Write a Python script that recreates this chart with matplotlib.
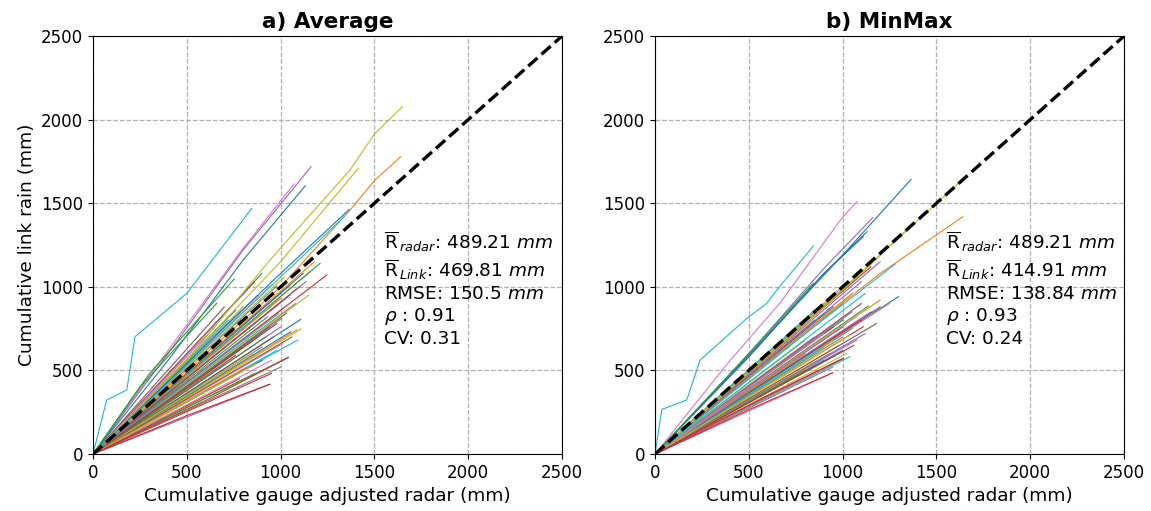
import matplotlib
matplotlib.use("Agg")
import matplotlib.pyplot as plt

AXIS_MAX = 2500
TICKS = [0, 500, 1000, 1500, 2000, 2500]
TITLES = ["a) Average", "b) MinMax"]
XLABEL = "Cumulative gauge adjusted radar (mm)"
YLABEL = "Cumulative link rain (mm)"

# stats shown in each panel
R_RADAR = [489.21, 489.21]
R_LINK = [469.81, 414.91]
RMSE = [150.5, 138.84]
RHO = [0.91, 0.93]
CV = [0.31, 0.24]

# --- a) Average: bulk of link curves, end points (radar mm, link mm) ---
avg_end_x = [1107, 1086, 1041, 952, 943, 1032, 1014, 1006, 1109, 1091,
             1055, 1157, 1210, 1246, 1135, 1050, 1000, 980, 1020, 960,
             900, 1000, 930, 870, 1000, 960, 1010, 900, 850, 980,
             900, 820, 860, 780, 1050, 1100, 950, 880, 800, 720,
             760, 650, 900, 860, 820, 700, 600, 1080, 1150, 990,
             940, 880, 800, 760, 700, 1060, 950, 1000, 870, 1040,
             1120, 1180, 920, 980, 840]
avg_end_y = [805, 742, 578, 483, 417, 843, 871, 811, 748, 682,
             732, 1090, 1140, 1071, 1031, 1010, 960, 1005, 1060, 900,
             870, 930, 820, 790, 760, 700, 660, 640, 600, 620,
             560, 520, 480, 450, 950, 1000, 1010, 950, 880, 800,
             860, 760, 1080, 1030, 980, 880, 700, 900, 950, 840,
             760, 700, 640, 590, 540, 700, 560, 520, 540, 1000,
             1080, 1150, 700, 780, 720]

# a) Average: curves that stand out, read vertex by vertex
avg_top_x = [
    [0, 73, 180, 224, 500, 846],          # cyan, steepest
    [0, 500, 943, 1370, 1503, 1649],      # olive, highest end
    [0, 1000, 1370, 1503, 1640],          # orange
    [0, 600, 1000, 1414],                 # olive
    [0, 700, 1000, 1366],                 # blue
    [0, 400, 800, 1071],                  # pink
    [0, 400, 800, 1162],                  # purple
    [0, 400, 800, 1132],                  # blue
    [0, 300, 753],                        # green
    [0, 250, 659],                        # green
    [0, 700, 1340],                       # cyan
    [0, 500, 940],                        # red, lowest
    [0, 600, 1041],                       # red
]
avg_top_y = [
    [0, 323, 383, 702, 961, 1469],
    [0, 560, 1160, 1699, 1918, 2077],
    [0, 1000, 1459, 1639, 1778],
    [0, 680, 1150, 1709],
    [0, 760, 1080, 1463],
    [0, 620, 1230, 1615],
    [0, 600, 1220, 1718],
    [0, 560, 1160, 1605],
    [0, 480, 1047],
    [0, 400, 901],
    [0, 740, 1420],
    [0, 230, 417],
    [0, 320, 578],
]
avg_top_c = ["tab:cyan", "tab:olive", "tab:orange", "tab:olive", "tab:blue",
             "tab:pink", "tab:purple", "tab:blue", "tab:green", "tab:green",
             "tab:cyan", "tab:red", "tab:red"]

# --- b) MinMax: bulk of link curves ---
mm_end_x = [1297, 1199, 1137, 1110, 1075, 1004, 947, 947, 1039, 1039,
            1000, 980, 1050, 1100, 1150, 1200, 1250, 1000, 950, 900,
            850, 800, 1000, 950, 1050, 1100, 900, 850, 800, 1000,
            950, 1050, 900, 850, 1100, 980, 920, 870, 1020, 960,
            900, 850, 800, 1060, 1120, 1180, 1000, 900, 950, 850,
            800, 750, 1080, 1150, 1200, 1000, 1070, 930, 880, 1120]
mm_end_y = [941, 921, 885, 761, 682, 572, 486, 520, 712, 582,
            620, 650, 750, 800, 850, 880, 900, 700, 680, 640,
            620, 600, 800, 760, 850, 900, 720, 700, 680, 900,
            880, 960, 840, 800, 1030, 560, 520, 500, 600, 590,
            560, 540, 500, 650, 720, 780, 1000, 900, 940, 860,
            780, 720, 1060, 1120, 1150, 760, 820, 600, 600, 960]

mm_top_x = [
    [0, 36, 169, 240, 489, 595, 649, 844],   # cyan, steepest
    [0, 500, 1000, 1365],                    # blue, highest end
    [0, 400, 666, 995, 1075],                # pink
    [0, 500, 900, 1160],                     # purple
    [0, 500, 900, 1110],                     # blue
    [0, 500, 900, 1130],                     # blue
    [0, 700, 1100, 1617],                    # olive along 1:1
    [0, 700, 1100, 1377],                    # olive
    [0, 800, 1200, 1640],                    # orange
    [0, 800, 1279],                          # cyan
    [0, 400, 843],                           # green
    [0, 500, 947],                           # red, lowest
    [0, 600, 1004],                          # red
]
mm_top_y = [
    [0, 267, 323, 562, 811, 901, 981, 1244],
    [0, 590, 1190, 1643],
    [0, 560, 903, 1410, 1509],
    [0, 600, 1110, 1413],
    [0, 590, 1080, 1300],
    [0, 580, 1080, 1330],
    [0, 690, 1090, 1619],
    [0, 680, 1080, 1380],
    [0, 730, 1080, 1419],
    [0, 720, 1135],
    [0, 480, 1021],
    [0, 265, 486],
    [0, 350, 572],
]
mm_top_c = ["tab:cyan", "tab:blue", "tab:pink", "tab:purple", "tab:blue",
            "tab:blue", "tab:olive", "tab:olive", "tab:orange", "tab:cyan",
            "tab:green", "tab:red", "tab:red"]


def draw_panel(ax, end_x, end_y, top_x, top_y, top_c, i):
    for xe, ye in zip(end_x, end_y):
        ax.plot([0, xe], [0, ye], lw=0.8)
    for xs, ys, c in zip(top_x, top_y, top_c):
        ax.plot(xs, ys, lw=0.8, color=c)
    ax.plot([0, AXIS_MAX], [0, AXIS_MAX], "k--", lw=2.4, zorder=5)

    ax.set_xlim(0, AXIS_MAX)
    ax.set_ylim(0, AXIS_MAX)
    ax.set_xticks(TICKS)
    ax.set_yticks(TICKS)
    ax.tick_params(labelsize=12)
    ax.grid(True, ls="--", color="#b0b0b0", lw=0.9)
    ax.set_axisbelow(True)
    ax.set_title(TITLES[i], fontsize=15.5, fontweight="bold")
    ax.set_xlabel(XLABEL, fontsize=13.3)

    txt = (r"$\overline{\mathrm{R}}_{\,radar}$: " + f"{R_RADAR[i]}" + r" $mm$" + "\n"
           + r"$\overline{\mathrm{R}}_{\,Link}$: " + f"{R_LINK[i]}" + r" $mm$" + "\n"
           + f"RMSE: {RMSE[i]}" + r" $mm$" + "\n"
           + r"$\rho$ : " + f"{RHO[i]}" + "\n"
           + f"CV: {CV[i]}")
    ax.text(1550, 990, txt, fontsize=13.3, va="center", ha="left", zorder=6)


fig = plt.figure(figsize=(11.51, 5.11), dpi=100)
ax1 = fig.add_axes([0.0808, 0.1115, 0.4075, 0.818])
ax2 = fig.add_axes([0.5691, 0.1115, 0.4075, 0.818])

draw_panel(ax1, avg_end_x, avg_end_y, avg_top_x, avg_top_y, avg_top_c, 0)
draw_panel(ax2, mm_end_x, mm_end_y, mm_top_x, mm_top_y, mm_top_c, 1)
ax1.set_ylabel(YLABEL, fontsize=13.3)

fig.savefig("out.png", dpi=100)
